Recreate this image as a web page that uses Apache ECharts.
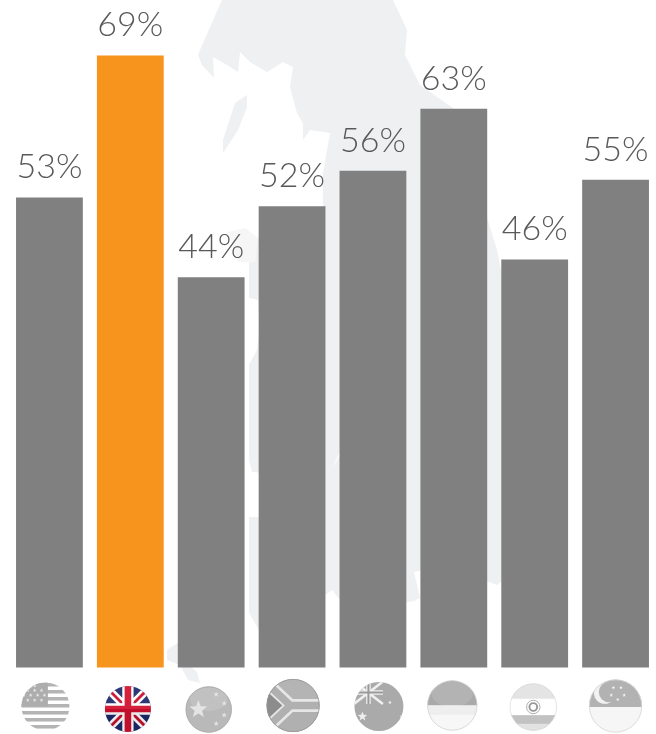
<!DOCTYPE html>
<html>
<head>
<meta charset="utf-8">
<style>html,body{margin:0;padding:0;background:#fff}#c{width:656px;height:734px}</style>
<script src="https://cdn.jsdelivr.net/npm/echarts@6/dist/echarts.min.js"></script>
</head>
<body>
<div id="c"></div>
<script>
const categories = ['United States','United Kingdom','China','South Africa','Australia','Indonesia','India','Singapore'];
const values = [53,69,44,52,56,63,46,55];
const highlighted = 'United Kingdom';
const flagKeys = ['us','uk','cn','za','au','id','in','sg'];
// flag centre offset from the band centre, and flag size (px)
const flagDx = [-4,-2.4,-2.5,1,6,-1.5,-1.4,0];
const flagCy = [706.5,709,709.5,705.5,706.5,705.5,707,706];
const flagD  = [49,47,47,54,50,51,48,54];

const GRAY='#808080', ORANGE='#f7941e', MAP='#eff0f2', TEXT='#58595b';

const star=(x,y,r,f)=>{let p=[];for(let i=0;i<10;i++){const a=-Math.PI/2+i*Math.PI/5,q=i%2?r*0.42:r;p.push((x+q*Math.cos(a)).toFixed(1)+','+(y+q*Math.sin(a)).toFixed(1));}return `<polygon points="${p.join(' ')}" fill="${f}"/>`;};
const gloss=(o)=>`<ellipse cx="50" cy="28" rx="40" ry="25" fill="#fff" opacity="${o}"/>`;
const wrap=(body,ring)=>`<svg xmlns="http://www.w3.org/2000/svg" width="200" height="200" viewBox="0 0 100 100"><defs><clipPath id="k"><circle cx="50" cy="50" r="49"/></clipPath></defs><g clip-path="url(#k)">${body}</g>${ring?`<circle cx="50" cy="50" r="48.5" fill="none" stroke="${ring}" stroke-width="1.6"/>`:''}</svg>`;

function flagSvg(key){
  if(key==='us'){
    let s='<rect width="100" height="100" fill="#fff"/>';
    [0,1,2,3,4,5,6].forEach(i=>{s+=`<rect x="0" y="${2+i*14.3}" width="100" height="7.2" fill="#b4b4b4"/>`;});
    s+='<rect x="0" y="0" width="55" height="50" fill="#adadad"/>';
    [[28,8],[14,17],[28,17],[42,17],[6,27],[20,27],[34,27],[48,27],[14,37],[28,37],[42,37]].forEach(p=>{s+=star(p[0],p[1],4,'#e8e8e8');});
    return wrap(s);
  }
  if(key==='uk'){
    let s='<rect width="100" height="100" fill="#1d2a6b"/>';
    s+='<path d="M0 0L100 100M100 0L0 100" stroke="#fff" stroke-width="17"/>';
    s+='<path d="M0 0L100 100M100 0L0 100" stroke="#c8102e" stroke-width="6"/>';
    s+='<path d="M50 0V100M0 50H100" stroke="#fff" stroke-width="24"/>';
    s+='<path d="M50 0V100M0 50H100" stroke="#d2102e" stroke-width="14"/>';
    s+='<rect width="100" height="50" fill="#fff" opacity="0.07"/><rect y="50" width="100" height="50" fill="#000" opacity="0.08"/>';
    return wrap(s);
  }
  if(key==='cn'){
    let s='<rect width="100" height="100" fill="#b9b9b9"/>'+gloss(0.12);
    s+=star(28,50,20,'#e4e4e4')+star(66,18,6,'#e4e4e4')+star(83,37,6,'#e4e4e4')+star(83,62,6,'#e4e4e4')+star(66,80,6,'#e4e4e4');
    return wrap(s,'#a8a8a8');
  }
  if(key==='za'){
    let s='<rect width="100" height="100" fill="#b4b4b4"/><rect y="55" width="100" height="45" fill="#b0b0b0"/>';
    s+='<path d="M-5 3L45 50H105M-5 97L45 50" fill="none" stroke="#e6e6e6" stroke-width="24"/>';
    s+='<path d="M-5 3L45 50H105M-5 97L45 50" fill="none" stroke="#b0b0b0" stroke-width="14"/>';
    s+='<polygon points="0,22 30,50 0,78" fill="#8c8c8c"/>';
    return wrap(s,'#999');
  }
  if(key==='au'){
    let s='<rect width="100" height="100" fill="#aaa"/>';
    s+='<path d="M0 0L58 45M58 0L0 45" stroke="#f0f0f0" stroke-width="5"/>';
    s+='<path d="M29 0V45M0 22H58" stroke="#f0f0f0" stroke-width="9"/><path d="M29 0V45M0 22H58" stroke="#999" stroke-width="4"/>';
    s+=star(17,70,10,'#eee')+star(72,42,4,'#eee')+star(95,70,4,'#eee')+star(88,94,4,'#eee');
    return wrap(s);
  }
  if(key==='id'){
    let s='<rect width="100" height="50" fill="#a9a9a9"/><rect y="50" width="100" height="50" fill="#eeeeee"/>';
    s+=gloss(0.12)+'<rect y="68" width="100" height="32" fill="#fff" opacity="0.5"/>';
    return wrap(s,'#d4d4d4');
  }
  if(key==='in'){
    let s='<rect width="100" height="33" fill="#e4e4e4"/><rect y="33" width="100" height="34" fill="#fff"/><rect y="67" width="100" height="33" fill="#c2c2c2"/>';
    s+='<rect y="85" width="100" height="15" fill="#e2e2e2"/>';
    s+='<circle cx="50" cy="50" r="14" fill="none" stroke="#aaa" stroke-width="2"/><circle cx="50" cy="50" r="8" fill="none" stroke="#999" stroke-width="4"/>';
    return wrap(s,'#dcdcdc');
  }
  let s='<rect width="100" height="52" fill="#b2b2b2"/><rect y="52" width="100" height="48" fill="#f6f6f6"/>';
  s+='<circle cx="30" cy="26" r="20" fill="#f2f2f2"/><circle cx="38" cy="24" r="19" fill="#b2b2b2"/>';
  [[48,14],[62,14],[42,25],[67,25],[55,32]].forEach(()=>{});
  [[46,16],[60,16],[42,30],[66,30],[54,38]].forEach(p=>{s+=star(p[0],p[1],3.5,'#f2f2f2');});
  return wrap(s,'#d8d8d8');
}
const flagUri = k => 'data:image/svg+xml;charset=utf-8,' + encodeURIComponent(flagSvg(k));

const poly=(points,fill,z)=>({type:'polygon',z:z||0,silent:true,shape:{points},style:{fill}});
const mapShapes=[
  poly([[222,0],[393,0],[407,30],[405,55],[420,85],[453,108],[497,250],[505,290],[513,280],[530,300],[530,560],[513,572],[497,585],[470,575],[431,568],[414,572],[420,598],[414,601],[348,612],[340,600],[332,590],[265,640],[249,613],[249,517],[265,517],[265,473],[252,472],[249,460],[249,240],[258,238],[265,232],[323,207],[323,173],[330,133],[310,130],[303,140],[303,123],[297,113],[290,87],[293,67],[283,62],[267,72],[250,62],[240,52],[238,72],[227,65],[213,57],[214,78],[202,65],[198,55],[200,50]],MAP),
  poly([[247,95],[247,107],[238,130],[223,153],[223,140],[235,103]],MAP),
  poly([[245,297],[258,300],[260,327],[257,350],[250,363],[245,363]],'#ffffff',1),
  poly([[345,447],[340,452],[333,466],[332,468],[336,462]],'#ffffff',1),
  poly([[228,232],[245,228],[258,238],[255,262],[238,262]],'#f6f6f7'),
  poly([[167,650],[182,640],[182,660],[197,672],[200,683],[188,680],[180,665],[167,660]],MAP)
];

const chart = echarts.init(document.getElementById('c'), null, {renderer:'canvas'});
chart.setOption({
  animation:false,
  backgroundColor:'#fff',
  graphic:{elements:mapShapes},
  grid:{left:9,top:2.25,width:662.4,height:665.25,containLabel:false},
  xAxis:{type:'category',data:categories,axisLine:{show:false},axisTick:{show:false},axisLabel:{show:false},splitLine:{show:false}},
  yAxis:{type:'value',min:0,max:75,interval:25,show:false,splitLine:{show:false}},
  series:[
    {
      type:'bar',
      barWidth:66.8,
      data:values.map((v,i)=>({value:v,itemStyle:{color:categories[i]===highlighted?ORANGE:GRAY}})),
      label:{show:true,position:'top',distance:13,formatter:'{c}%',color:TEXT,
        fontFamily:'Lato',fontWeight:300,fontSize:34}
    },
    {
      type:'custom',
      silent:true,
      clip:false,
      data:categories.map((c,i)=>[i,0]),
      renderItem:(params,api)=>{
        const i=api.value(0), p=api.coord([i,0]), d=flagD[i];
        return {type:'image',style:{image:flagUri(flagKeys[i]),x:p[0]+flagDx[i]-d/2,y:flagCy[i]-d/2,width:d,height:d}};
      }
    }
  ]
});
setTimeout(()=>chart.resize(),50);
</script>
</body>
</html>
